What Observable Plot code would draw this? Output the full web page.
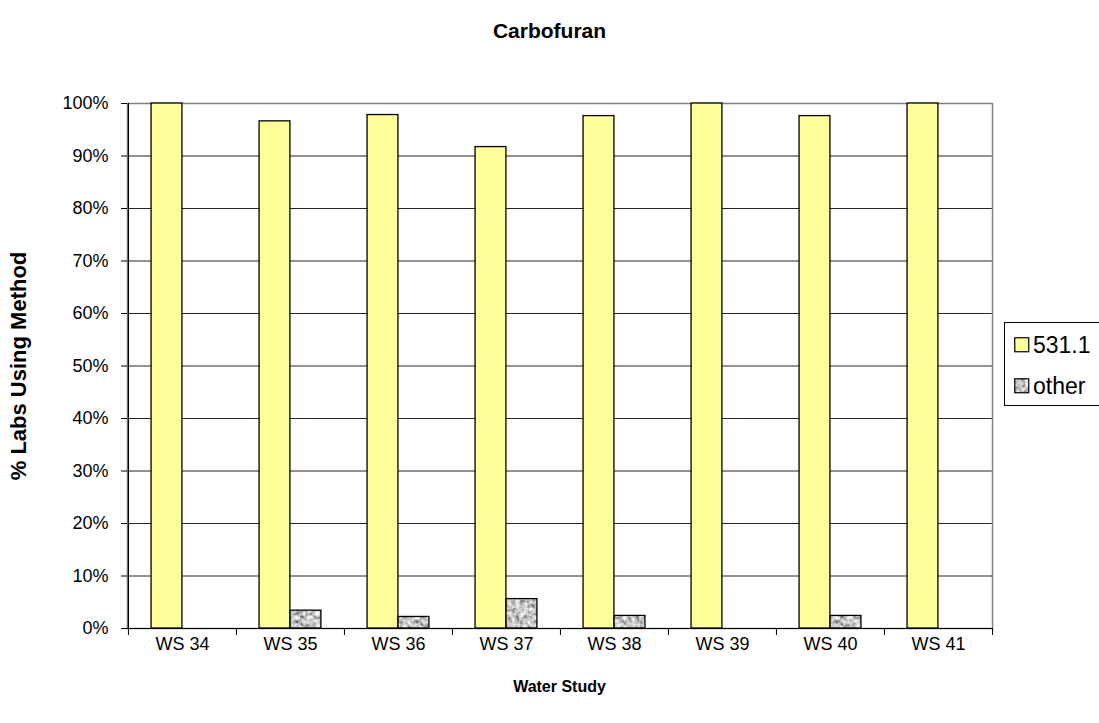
<!DOCTYPE html>
<html><head><meta charset="utf-8">
<script src="https://cdn.jsdelivr.net/npm/d3@7"></script>
<script src="https://cdn.jsdelivr.net/npm/@observablehq/plot@0.6"></script>
<style>
body{margin:0;background:#fff;font-family:"Liberation Sans",Arial,sans-serif}
#wrap{position:relative;width:1099px;height:723px;overflow:hidden;background:#fff}
.abs{position:absolute;white-space:nowrap;color:#000}
</style></head>
<body><div id="wrap"></div>
<script>
// ---- data ----
const studies = ["WS 34","WS 35","WS 36","WS 37","WS 38","WS 39","WS 40","WS 41"];
const method531 = [100, 96.6, 97.8, 91.7, 97.6, 100, 97.6, 100];
const methodOther = [0, 3.4, 2.2, 5.6, 2.4, 0, 2.4, 0];
const seriesNames = ["531.1", "other"];
const yTicks = [0,10,20,30,40,50,60,70,80,90,100];
const title = "Carbofuran";
const xTitle = "Water Study";
const yTitle = "% Labs Using Method";

const rows531 = studies.map((s,i)=>({study:s, value:method531[i]}));
const rowsOther = studies.map((s,i)=>({study:s, value:methodOther[i]})).filter(d=>d.value>0);

const W = 1099, H = 723;
const mL = 127, mR = 107, mT = 103, mB = 95;
const step = (W - mL - mR) / studies.length;
const barW = 31;
const gap = (step - 2*barW) / 2;

const plot = Plot.plot({
  width: W, height: H,
  marginLeft: mL, marginRight: mR, marginTop: mT, marginBottom: mB,
  style: {fontFamily: '"Liberation Sans", Arial, sans-serif', fontSize: "18px", color: "#000", background: "#fff"},
  x: {domain: studies, padding: 0, label: null},
  y: {domain: [0, 100], label: null},
  marks: [
    Plot.gridY(yTicks, {stroke: "#000", strokeOpacity: 0.85, strokeWidth: 1}),
    Plot.frame({stroke: "#808080", strokeWidth: 1.5}),
    Plot.barY(rows531, {x: "study", y: "value", fill: "#FFFF99", stroke: "#000", strokeWidth: 1.3, insetLeft: gap, insetRight: gap + barW}),
    Plot.barY(rowsOther, {x: "study", y: "value", fill: "url(#grayTex)", stroke: "#000", strokeWidth: 1.3, insetLeft: gap + barW, insetRight: gap}),
    Plot.ruleY([0], {stroke: "#000", strokeWidth: 1.2}),
    Plot.ruleX([studies[0]], {dx: -step/2, stroke: "#000", strokeWidth: 1.2}),
    Plot.ruleX(studies, {x: d=>d, dx: -step/2, y1: 0, y2: 0, insetBottom: -7, stroke: "#000"}),
    Plot.ruleX([studies[studies.length-1]], {x: d=>d, dx: step/2, y1: 0, y2: 0, insetBottom: -7, stroke: "#000"}),
    Plot.axisY(yTicks, {tickSize: 6, tickPadding: 13, tickFormat: d => d + "%", fontSize: 18, stroke: "#000"}),
    Plot.axisX({tickSize: 0, tickPadding: 9, fontSize: 18})
  ]
});

// texture pattern for the "other" series
const svg = d3.select(plot);
const defs = svg.insert("defs", ":first-child");
const filt = defs.append("filter").attr("id", "noiseF").attr("x", 0).attr("y", 0).attr("width", 1).attr("height", 1);
filt.append("feTurbulence").attr("type", "fractalNoise").attr("baseFrequency", 0.25).attr("numOctaves", 2).attr("seed", 4);
filt.append("feColorMatrix").attr("type", "matrix")
  .attr("values", "1.4 0 0 0 -0.12  1.4 0 0 0 -0.12  1.4 0 0 0 -0.12  0 0 0 0 1");
const pat = defs.append("pattern").attr("id", "grayTex").attr("patternUnits", "userSpaceOnUse").attr("width", 60).attr("height", 60);
pat.append("rect").attr("width", 60).attr("height", 60).attr("fill", "#999").attr("filter", "url(#noiseF)");

const wrap = document.getElementById("wrap");
plot.style.position = "absolute"; plot.style.left = "0"; plot.style.top = "0";
wrap.appendChild(plot);

function addText(txt, css) {
  const d = document.createElement("div");
  d.className = "abs"; d.textContent = txt; d.style.cssText += css;
  wrap.appendChild(d); return d;
}
addText(title, "left:0;width:" + W + "px;text-align:center;top:19px;font-size:21px;font-weight:bold;");
addText(xTitle, "left:" + mL + "px;width:" + (W-mL-mR) + "px;text-align:center;top:678px;font-size:16px;font-weight:bold;");
addText(yTitle, "left:19px;top:" + (mT + (H-mT-mB)/2) + "px;font-size:22px;font-weight:bold;transform:translate(-50%,-50%) rotate(-90deg);");

// legend
const leg = document.createElement("div");
leg.className = "abs";
leg.style.cssText += "left:1004px;top:322px;width:120px;height:84px;border:1.5px solid #000;box-sizing:border-box;background:#fff;";
wrap.appendChild(leg);
const fills = ["#FFFF99", "url(#grayTex)"];
seriesNames.forEach((name, i) => {
  const row = document.createElement("div");
  row.style.cssText = "position:absolute;left:9px;top:" + (7 + i*41) + "px;height:30px;display:flex;align-items:center;font-size:23px;";
  row.innerHTML = '<svg width="16" height="16" style="margin-right:3px"><rect x="0.75" y="0.75" width="14" height="14" fill="' + fills[i] + '" stroke="#000" stroke-width="1.2"/></svg>';
  const t = document.createElement("span"); t.textContent = name; row.appendChild(t);
  leg.appendChild(row);
});
</script>
</body></html>
